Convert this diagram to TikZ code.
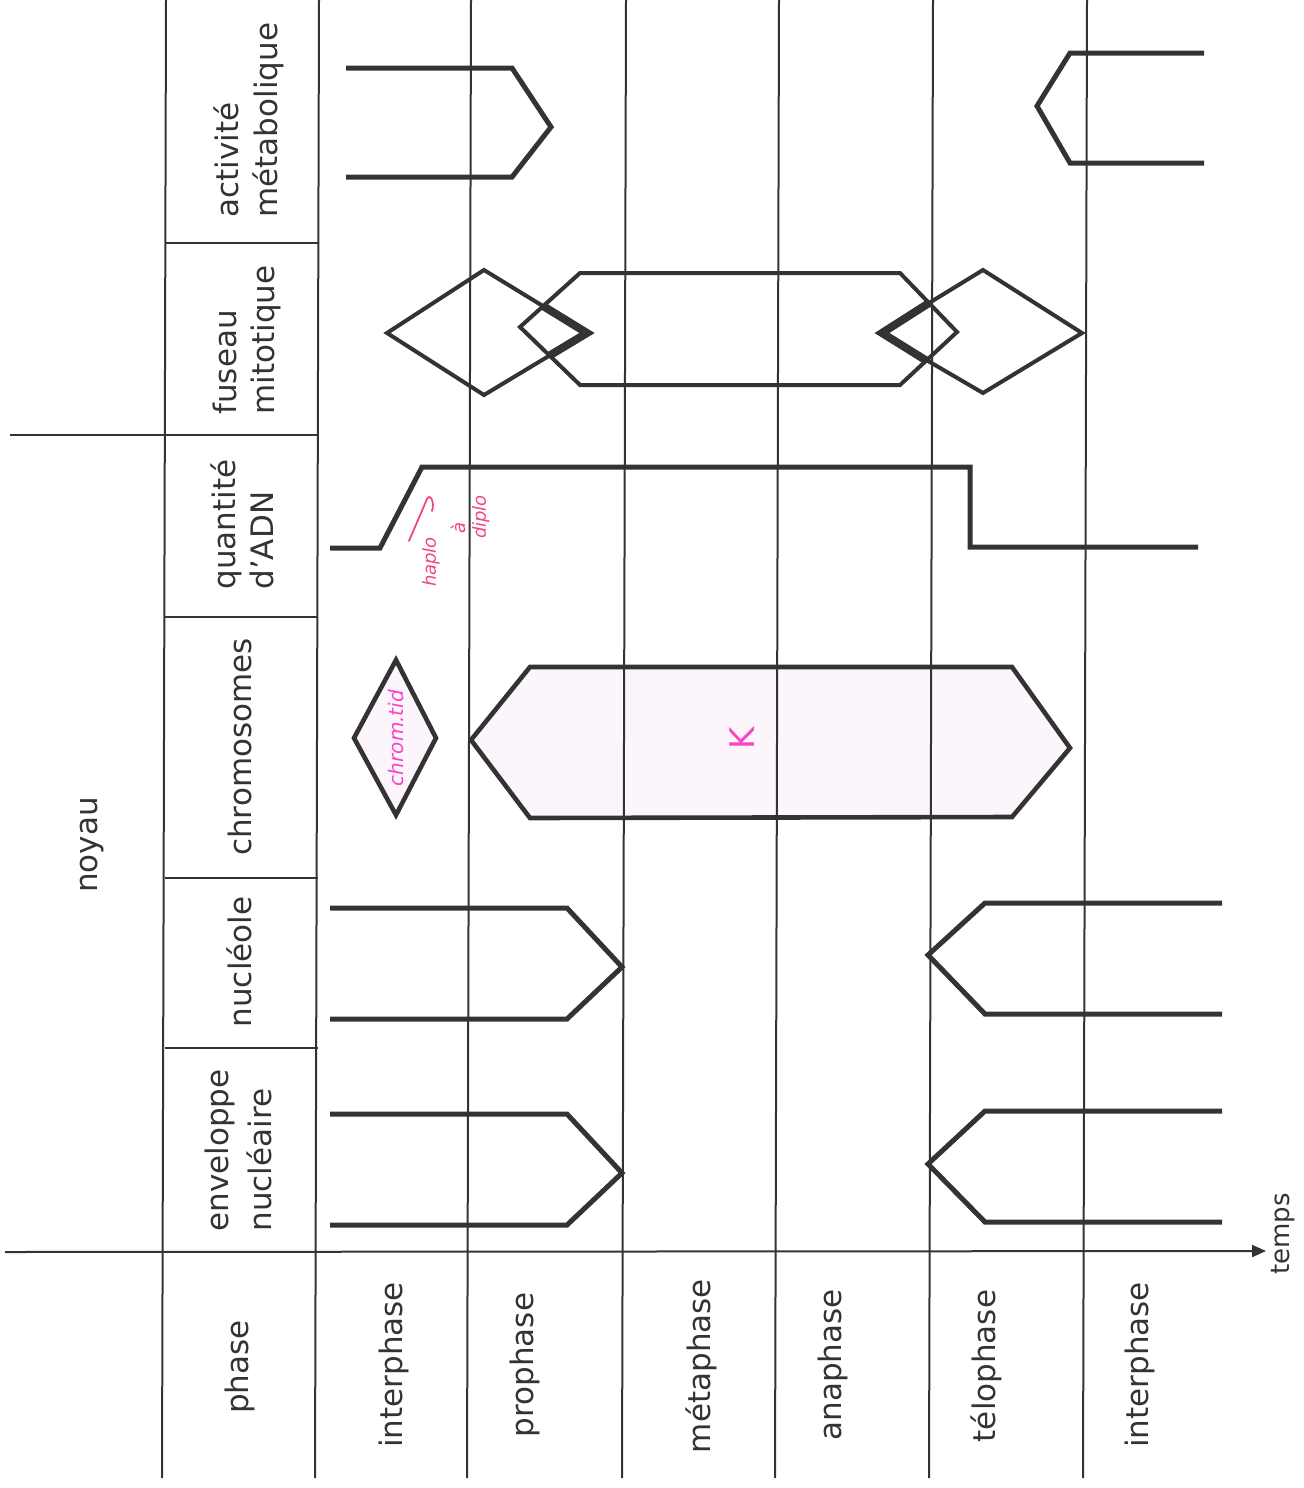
\documentclass[tikz,border=0pt]{standalone}
\usepackage{fontspec}
\setmainfont{DejaVu Sans}
\usetikzlibrary{arrows.meta}
\definecolor{ink}{HTML}{333333}
\definecolor{hlpink}{RGB}{253,245,252}
\definecolor{penpink}{RGB}{245,70,200}
\definecolor{penred}{RGB}{242,70,120}
\begin{document}
\begin{tikzpicture}[x=0.5pt,y=-0.5pt,
  gridline/.style={draw=ink,line width=1pt},
  curve/.style={draw=ink,line width=2.5pt,line join=miter},
  spindle/.style={draw=ink,line width=2pt,line join=miter},
  chev/.style={draw=ink,line width=4pt,line join=miter},
  lab/.style={rotate=90,anchor=base,inner sep=0pt,font=\fontsize{15.5}{19}\selectfont,text=ink},
  labw/.style={rotate=90,anchor=base west,inner sep=0pt,font=\fontsize{15.5}{19}\selectfont,text=ink},
  note/.style={rotate=90,inner sep=0pt,font=\fontsize{9}{10}\itshape\selectfont}]
\useasboundingbox (0,0) rectangle (1303,1488);

% pink highlight fills
\path[fill=hlpink] (396,660) -- (436,738) -- (396,815) -- (354,738) -- cycle;
\path[fill=hlpink] (471,740) -- (530,667) -- (1012,667) -- (1070,748) -- (1012,817) -- (530,818) -- cycle;

% grid
\coordinate (v0t) at (166,0);  \coordinate (v0b) at (162,1478);
\coordinate (v1t) at (319,0);  \coordinate (v1b) at (315,1478);
\coordinate (v2t) at (471,0);  \coordinate (v2b) at (467,1478);
\coordinate (v3t) at (626,0);  \coordinate (v3b) at (622,1478);
\coordinate (v4t) at (779,0);  \coordinate (v4b) at (775,1478);
\coordinate (v5t) at (933,0);  \coordinate (v5b) at (929,1478);
\coordinate (v6t) at (1087,0); \coordinate (v6b) at (1083,1478);
\foreach \i in {0,...,6} { \draw[gridline] (v\i t) -- (v\i b); }
\foreach \yy in {243,435,617,878,1048} { \draw[gridline] (164.5,\yy) -- (317.5,\yy); }
\coordinate (noyL) at (10,435); \coordinate (noyR) at (164.5,435);
\draw[gridline] (noyL) -- (noyR);
\coordinate (t0) at (5,1252); \coordinate (t1) at (1266,1251);
\draw[gridline,-{Triangle[length=7pt,width=6pt]}] (t0) -- (t1);

% row labels
\node[labw] (act1) at (238,218) {activité};
\node[labw] (act2) at (277,218) {métabolique};
\node[labw] (fus1) at (236,415) {fuseau};
\node[labw] (fus2) at (274,415) {mitotique};
\node[labw] (adn1) at (235,590) {quantité};
\node[labw] (adn2) at (273,590) {d’ADN};
\node[lab] (chr) at (251,747) {chromosomes};
\node[lab] (nuc) at (251,962) {nucléole};
\node[labw] (env1) at (228,1232) {enveloppe};
\node[labw] (env2) at (271,1232) {nucléaire};
\node[lab] (noy) at (97,845) {noyau};
\node[lab] (pha) at (248,1367) {phase};
\node[lab] (p1) at (402,1365) {interphase};
\node[lab] (p2) at (533,1365) {prophase};
\node[lab] (p3) at (710,1366) {métaphase};
\node[lab] (p4) at (841,1365) {anaphase};
\node[lab] (p5) at (995,1366) {télophase};
\node[lab] (p6) at (1148,1365) {interphase};
\node[lab,font=\fontsize{13}{15}\selectfont] (tps) at (1289,1234) {temps};

% activité métabolique
\draw[curve] (346,68) -- (512,68) -- (551,127) -- (512,177) -- (346,177);
\draw[curve] (1204,53) -- (1070,53) -- (1037,106) -- (1070,163) -- (1204,163);

% fuseau mitotique
\draw[spindle] (387,333) -- (484,270) -- (587,333) -- (484,395) -- cycle;
\draw[spindle] (520,327) -- (580,273) -- (900,273) -- (957,332) -- (900,385) -- (580,385) -- cycle;
\draw[spindle] (880,333) -- (983,270) -- (1082,333) -- (983,393) -- cycle;
\draw[chev] (543,306) -- (587,333) -- (549.5,355.6);
\draw[chev] (929,303) -- (882,333) -- (927,361);

% quantité d'ADN
\draw[curve] (330,548) -- (380,548) -- (422,467) -- (970,467) -- (970,547) -- (1198,547);

% chromosomes
\draw[curve,line width=2.3pt] (396,660) -- (436,738) -- (396,815) -- (354,738) -- cycle;
\draw[curve,line width=2.3pt] (471,740) -- (530,667) -- (1012,667) -- (1070,748) -- (1012,817) -- (530,818) -- cycle;

% nucléole
\draw[curve] (330,908) -- (567,908) -- (622,967) -- (567,1019) -- (330,1019);
\draw[curve] (1222,903) -- (985,903) -- (928,955) -- (985,1014) -- (1222,1014);

% enveloppe nucléaire
\draw[curve] (330,1114) -- (567,1114) -- (622,1173) -- (567,1225) -- (330,1225);
\draw[curve] (1222,1111) -- (985,1111) -- (928,1164) -- (985,1222) -- (1222,1222);

% handwritten notes
\coordinate (arA) at (409,541); \coordinate (arB) at (427,499); \coordinate (arC) at (432,511);
\draw[penred,line width=0.9pt,line cap=round] (arA) -- (arB) .. controls (430,493) and (435,502) .. (arC);
\node[note,text=penred] (hap) at (431,562) {haplo};
\node[note,text=penred] (aa) at (458,528) {à};
\node[note,text=penred] (dip) at (481,517) {diplo};
\node[note,text=penpink,font=\fontsize{10}{11}\itshape\selectfont] (ctid) at (396,738) {chrom.tid};
\node[note,text=penpink,font=\fontsize{17}{18}\selectfont] (kk) at (742,738) {K};
\end{tikzpicture}
\end{document}
